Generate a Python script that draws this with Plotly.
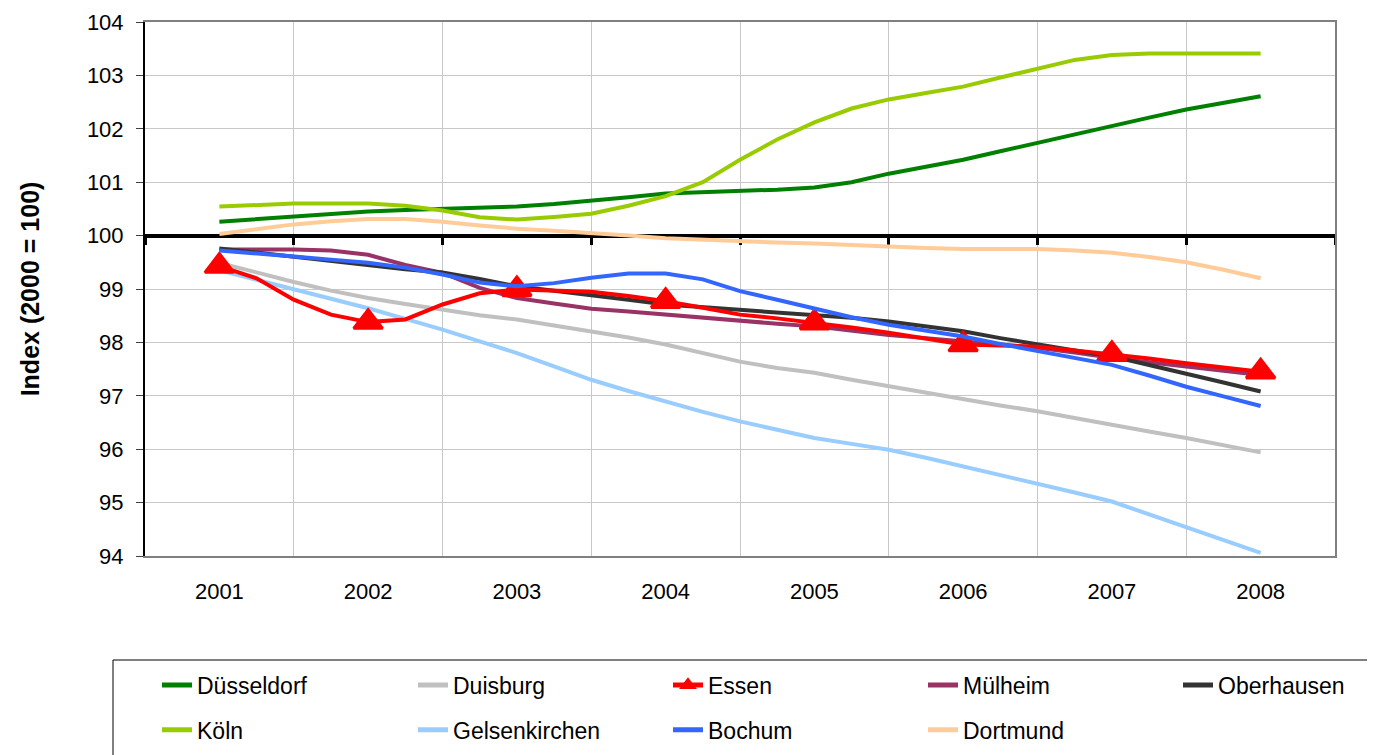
import plotly.graph_objects as go

# ---------------- data (index, 2000 = 100), quarterly readings ----------------
t = [2001.0, 2001.25, 2001.5, 2001.75, 2002.0, 2002.25, 2002.5, 2002.75,
     2003.0, 2003.25, 2003.5, 2003.75, 2004.0, 2004.25, 2004.5, 2004.75,
     2005.0, 2005.25, 2005.5, 2005.75, 2006.0, 2006.25, 2006.5, 2006.75,
     2007.0, 2007.25, 2007.5, 2007.75, 2008.0]

years = [2001, 2002, 2003, 2004, 2005, 2006, 2007, 2008]
year_labels = ["2001", "2002", "2003", "2004", "2005", "2006", "2007", "2008"]
y_ticks = [94, 95, 96, 97, 98, 99, 100, 101, 102, 103, 104]

duesseldorf = [100.26, 100.31, 100.36, 100.41, 100.45, 100.48, 100.50, 100.52,
               100.545, 100.59, 100.65, 100.72, 100.79, 100.81, 100.83, 100.86,
               100.90, 101.00, 101.16, 101.29, 101.42, 101.58, 101.74, 101.90,
               102.06, 102.21, 102.36, 102.49, 102.61]
koeln = [100.545, 100.58, 100.60, 100.60, 100.60, 100.56, 100.47, 100.345,
         100.30, 100.35, 100.41, 100.56, 100.74, 101.00, 101.42, 101.80,
         102.12, 102.38, 102.55, 102.67, 102.79, 102.96, 103.13, 103.29,
         103.38, 103.41, 103.41, 103.41, 103.41]
dortmund = [100.03, 100.12, 100.21, 100.27, 100.31, 100.31, 100.26, 100.19,
            100.13, 100.09, 100.05, 100.00, 99.95, 99.92, 99.89, 99.87,
            99.85, 99.82, 99.79, 99.77, 99.75, 99.75, 99.75, 99.72,
            99.68, 99.60, 99.50, 99.36, 99.20]
bochum = [99.72, 99.67, 99.61, 99.55, 99.49, 99.40, 99.27, 99.12,
          99.05, 99.11, 99.21, 99.29, 99.29, 99.18, 98.96, 98.80,
          98.63, 98.47, 98.33, 98.22, 98.11, 97.97, 97.84, 97.71,
          97.58, 97.38, 97.17, 96.99, 96.81]
oberhausen = [99.76, 99.68, 99.60, 99.52, 99.44, 99.37, 99.31, 99.19,
              99.05, 98.97, 98.89, 98.80, 98.71, 98.66, 98.61, 98.57,
              98.52, 98.46, 98.39, 98.30, 98.21, 98.08, 97.96, 97.85,
              97.74, 97.58, 97.42, 97.25, 97.08]
muelheim = [99.74, 99.74, 99.74, 99.72, 99.64, 99.45, 99.30, 99.02,
            98.83, 98.73, 98.63, 98.58, 98.52, 98.46, 98.40, 98.35,
            98.30, 98.22, 98.14, 98.08, 98.02, 97.96, 97.90, 97.81,
            97.71, 97.63, 97.55, 97.47, 97.39]
essen = [99.43, 99.20, 98.80, 98.52, 98.38, 98.43, 98.71, 98.92,
         98.99, 98.97, 98.95, 98.87, 98.77, 98.65, 98.52, 98.45,
         98.37, 98.28, 98.18, 98.07, 97.96, 97.94, 97.92, 97.85,
         97.78, 97.70, 97.61, 97.53, 97.45]
duisburg = [99.49, 99.31, 99.13, 98.97, 98.83, 98.72, 98.61, 98.51,
            98.43, 98.32, 98.21, 98.09, 97.96, 97.80, 97.64, 97.52,
            97.43, 97.30, 97.18, 97.05, 96.93, 96.82, 96.71, 96.58,
            96.46, 96.33, 96.21, 96.07, 95.94]
gelsenkirchen = [99.35, 99.17, 98.99, 98.82, 98.64, 98.44, 98.24, 98.02,
                 97.80, 97.55, 97.30, 97.09, 96.89, 96.70, 96.52, 96.36,
                 96.21, 96.10, 95.99, 95.84, 95.68, 95.52, 95.36, 95.19,
                 95.02, 94.78, 94.55, 94.30, 94.06]

# ---------------- layout constants ----------------
OFF = 8                      # browser body margin around the figure
W, H = 1375 - OFF, 755 - OFF
ML, MR, MT, MB = 145 - OFF, 40, 22 - OFF, 199
PW, PH = W - ML - MR, H - MT - MB
Y_MIN, Y_MAX = 94, 104
X_MIN, X_MAX = years[0] - 0.5, years[-1] + 0.5
boundaries = [y - 0.5 for y in years] + [years[-1] + 0.5]
FONT = "Liberation Sans, Arial, sans-serif"


def px_x(px):
    """page pixel -> paper x"""
    return (px - OFF - ML) / PW


def px_y(py):
    """page pixel -> paper y"""
    return (H - MB - (py - OFF)) / PH


# name, values, color, legend column, row, axes
series = [
    ("Düsseldorf", duesseldorf, "#008000", "legend", 1, ("x", "y")),
    ("Köln", koeln, "#99CC00", "legend", 2, ("x", "y")),
    ("Dortmund", dortmund, "#FFCC99", "legend4", 2, ("x", "y")),
    ("Gelsenkirchen", gelsenkirchen, "#99CCFF", "legend2", 2, ("x", "y")),
    ("Duisburg", duisburg, "#C0C0C0", "legend2", 1, ("x", "y")),
    ("Mülheim", muelheim, "#993366", "legend4", 1, ("x", "y")),
    ("Oberhausen", oberhausen, "#333333", "legend5", 1, ("x", "y")),
    ("Essen", essen, "#FF0000", "legend3", 1, ("x2", "y2")),
    ("Bochum", bochum, "#3366FF", "legend3", 2, ("x2", "y2")),
]

fig = go.Figure()
for name, vals, color, leg, rank, (xa, ya) in series:
    kw = dict(mode="lines")
    if name == "Essen":
        kw = dict(
            mode="lines+markers",
            marker=dict(symbol="triangle-up", color=color, opacity=1,
                        size=[25 if x in years else 0 for x in t],
                        line=dict(color=color, width=3)),
        )
    fig.add_trace(go.Scatter(
        x=t, y=vals, name=name, line=dict(color=color, width=4),
        xaxis=xa, yaxis=ya, legendgroup=name,
        legend=leg, legendrank=rank, hoverinfo="x+y+name", **kw))

ROW1, ROW2 = 685, 730
col_text_x = {"legend": 197, "legend2": 453, "legend3": 708,
              "legend4": 963, "legend5": 1218}
col_rows = {"legend": 2, "legend2": 2, "legend3": 2, "legend4": 2, "legend5": 1}

legends = {}
for key, tx in col_text_x.items():
    yc = (ROW1 + ROW2) / 2 if col_rows[key] == 2 else ROW1
    legends[key] = dict(
        orientation="v", xanchor="left", yanchor="middle",
        x=px_x(tx - 40), y=px_y(yc),
        font=dict(family=FONT, size=23, color="black"),
        itemsizing="constant", tracegroupgap=12,
        bgcolor="rgba(0,0,0,0)", borderwidth=0, traceorder="grouped",
    )

fig.update_layout(
    width=W, height=H,
    margin=dict(l=ML, r=MR, t=MT, b=MB, autoexpand=False),
    paper_bgcolor="white", plot_bgcolor="white",
    font=dict(family=FONT, size=22, color="black"),
    showlegend=True,
    xaxis=dict(
        range=[X_MIN, X_MAX], tickmode="array", tickvals=boundaries,
        showticklabels=False, showgrid=True, gridcolor="#C8C8C8", gridwidth=1,
        anchor="free", position=(100 - Y_MIN) / (Y_MAX - Y_MIN),
        showline=True, linecolor="black", linewidth=4,
        ticks="outside", ticklen=7, tickwidth=3, tickcolor="black",
        zeroline=False, layer="below traces",
    ),
    xaxis2=dict(
        overlaying="x", anchor="y", side="bottom", range=[X_MIN, X_MAX],
        tickmode="array", tickvals=years, ticktext=year_labels,
        showgrid=False, showline=True, linecolor="#808080", linewidth=2,
        mirror=True, ticks="", ticklabelstandoff=15, zeroline=False,
        tickfont=dict(family=FONT, size=22, color="black"),
    ),
    yaxis=dict(
        range=[Y_MIN, Y_MAX], tickmode="array", tickvals=y_ticks,
        showgrid=True, gridcolor="#C8C8C8", gridwidth=1,
        showline=True, linecolor="black", linewidth=2,
        ticks="outside", ticklen=7, tickwidth=1, tickcolor="#404040",
        ticklabelstandoff=8, zeroline=False,
        tickfont=dict(family=FONT, size=22, color="black"),
        title=dict(text="<b>Index (2000 = 100)</b>",
                   font=dict(family=FONT, size=25, color="black"), standoff=40),
    ),
    yaxis2=dict(
        overlaying="y", anchor="x", side="right", range=[Y_MIN, Y_MAX],
        showgrid=False, showticklabels=False, showline=True,
        linecolor="#808080", linewidth=2, ticks="", zeroline=False,
    ),
    shapes=[dict(
        type="rect", xref="paper", yref="paper",
        x0=px_x(113), x1=px_x(1374), y0=px_y(660), y1=px_y(800),
        line=dict(color="black", width=1), fillcolor="rgba(0,0,0,0)",
    )],
    **legends,
)

fig.write_html("out.html")
